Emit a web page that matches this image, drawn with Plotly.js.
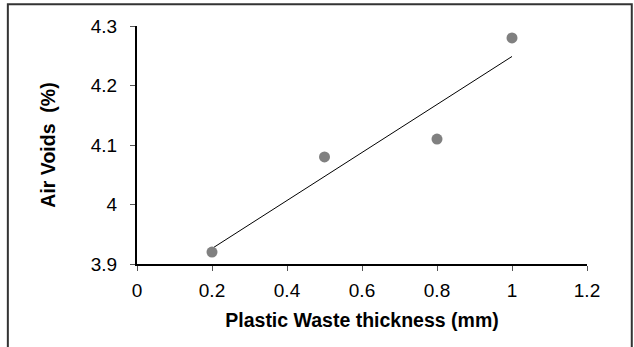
<!DOCTYPE html>
<html>
<head>
<meta charset="utf-8">
<script src="https://cdn.plot.ly/plotly-3.0.1.min.js"></script>
<style>
html,body{margin:0;padding:0;background:#fff;}
#chart{width:634px;height:347px;}
</style>
</head>
<body>
<div id="chart"></div>
<script>
// Data
const thickness = [0.2, 0.5, 0.8, 1.0];
const airVoids = [3.92, 4.08, 4.11, 4.28];
const xTicks = [0, 0.2, 0.4, 0.6, 0.8, 1, 1.2];
const yTicks = [3.9, 4, 4.1, 4.2, 4.3];
const xTitle = 'Plastic Waste thickness (mm)';
const yTitle = 'Air Voids  (%)';

// Linear least-squares trendline computed from the data
const n = thickness.length;
const mx = thickness.reduce((a, b) => a + b, 0) / n;
const my = airVoids.reduce((a, b) => a + b, 0) / n;
let sxy = 0, sxx = 0;
for (let i = 0; i < n; i++) {
  sxy += (thickness[i] - mx) * (airVoids[i] - my);
  sxx += (thickness[i] - mx) ** 2;
}
const slope = sxy / sxx;
const intercept = my - slope * mx;
const trendX = [Math.min(...thickness), Math.max(...thickness)];
const trendY = trendX.map(x => intercept + slope * x);

const font = "Liberation Sans, Arial, sans-serif";

const traces = [
  {
    x: trendX, y: trendY, type: 'scatter', mode: 'lines',
    line: {color: '#000', width: 1}, hoverinfo: 'skip', showlegend: false
  },
  {
    x: thickness, y: airVoids, type: 'scatter', mode: 'markers',
    marker: {color: '#808080', size: 11}, showlegend: false
  }
];

const layout = {
  width: 634, height: 347,
  margin: {l: 137, r: 47, t: 26, b: 83},
  paper_bgcolor: '#fff', plot_bgcolor: '#fff',
  font: {family: font, size: 19, color: '#000'},
  xaxis: {
    range: [0, 1.2], tickvals: xTicks, ticktext: xTicks.map(String),
    showgrid: false, zeroline: false,
    showline: true, linecolor: '#000', linewidth: 2,
    ticks: 'outside', ticklen: 5, tickwidth: 1, tickcolor: '#555',
    ticklabelstandoff: 3,
    tickfont: {family: font, size: 19},
    title: {text: xTitle, font: {family: font, size: 19.5, weight: 'bold'}, standoff: 14}
  },
  yaxis: {
    range: [3.9, 4.3], tickvals: yTicks, ticktext: yTicks.map(String),
    showgrid: false, zeroline: false,
    showline: true, linecolor: '#000', linewidth: 2,
    ticks: 'outside', ticklen: 5, tickwidth: 1, tickcolor: '#555',
    ticklabelstandoff: 9,
    tickfont: {family: font, size: 19},
    title: {text: yTitle, font: {family: font, size: 19.5, weight: 'bold'}, standoff: 30}
  },
  shapes: [{
    type: 'rect', xref: 'paper', yref: 'paper',
    x0: -0.287, x1: 1.0995, y0: -0.40, y1: 1.091,
    line: {color: '#333', width: 2}, fillcolor: 'rgba(0,0,0,0)', layer: 'below'
  }]
};

Plotly.newPlot('chart', traces, layout, {displayModeBar: false, staticPlot: true});
</script>
</body>
</html>
